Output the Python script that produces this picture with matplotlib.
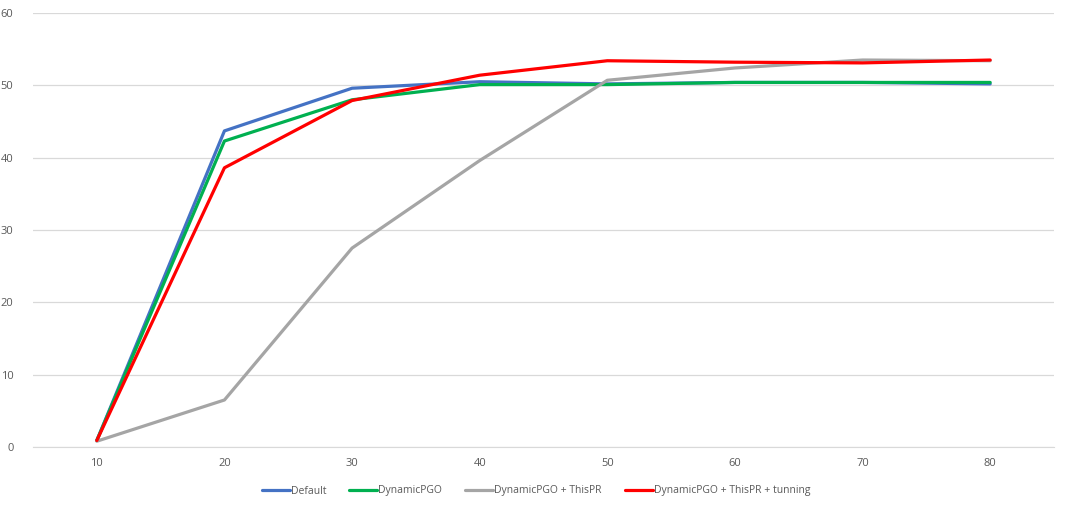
import matplotlib
matplotlib.use("Agg")
import matplotlib.pyplot as plt
import numpy as np

# category axis
categories = ["10", "20", "30", "40", "50", "60", "70", "80"]

# series values
default = [0.9, 43.7, 49.6, 50.5, 50.2, 50.4, 50.4, 50.2]
dynamic_pgo = [0.9, 42.3, 48.0, 50.1, 50.1, 50.4, 50.4, 50.4]
dynamic_pgo_pr = [0.8, 6.5, 27.5, 39.6, 50.7, 52.4, 53.5, 53.4]
dynamic_pgo_pr_tun = [0.9, 38.6, 47.9, 51.4, 53.4, 53.2, 53.1, 53.5]

series_names = ["Default", "DynamicPGO", "DynamicPGO + ThisPR", "DynamicPGO + ThisPR + tunning"]
colors = ["#4472C4", "#00B050", "#A5A5A5", "#FF0000"]

plt.rcParams['font.family'] = ['Open Sans', 'DejaVu Sans']

fig = plt.figure(figsize=(10.91, 5.28), dpi=100)
ax = fig.add_axes([33 / 1091, 1 - 447 / 528, (1054 - 33) / 1091, (447 - 13) / 528])

x = np.arange(len(categories))
for vals, name, c in zip([default, dynamic_pgo, dynamic_pgo_pr, dynamic_pgo_pr_tun], series_names, colors):
    ax.plot(x, vals, color=c, lw=2.3, label=name, solid_capstyle='round', solid_joinstyle='round')

ax.set_xlim(-0.5, len(categories) - 0.5)
ax.set_ylim(0, 60)
ax.set_yticks(range(0, 61, 10))
ax.set_xticks(x)
ax.set_xticklabels(categories)
ax.grid(axis='y', color='#D9D9D9', lw=0.9)
ax.set_axisbelow(True)
for s in ['top', 'right', 'left']:
    ax.spines[s].set_visible(False)
ax.spines['bottom'].set_color('#D9D9D9')
ax.tick_params(length=0, labelsize=8, colors='#595959', pad=8)
ax.tick_params(axis='y', pad=14)

leg = fig.legend(loc='center', bbox_to_anchor=(536 / 1091, 1 - 491 / 528), ncol=4, frameon=False,
                 fontsize=7.5, handlelength=2.7, columnspacing=2.2, handletextpad=0.1)
for t in leg.get_texts():
    t.set_color('#595959')

fig.savefig("out.png", dpi=100)
